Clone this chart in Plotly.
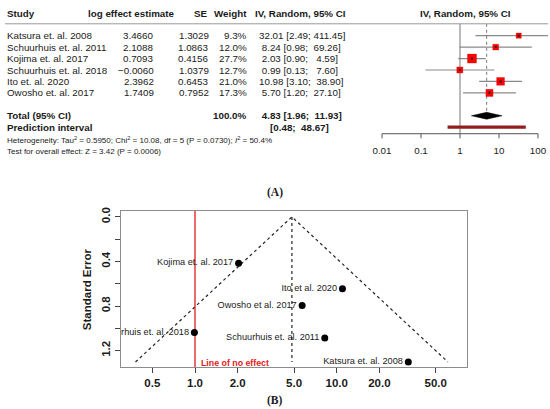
import plotly.graph_objects as go

# ---- data ----
studies = ['Katsura et. al. 2008', 'Schuurhuis et. al. 2011', 'Kojima et. al. 2017',
           'Schuurhuis et. al. 2018', 'Ito et. al. 2020', 'Owosho et. al. 2017']
log_est = [3.4660, 2.1088, 0.7093, -0.0060, 2.3962, 1.7409]
se = [1.3029, 1.0863, 0.4156, 1.0379, 0.6453, 0.7952]
weight = [9.3, 12.0, 27.7, 12.7, 21.0, 17.3]
or_est = [32.01, 8.24, 2.03, 0.99, 10.98, 5.70]
ci_lo = [2.49, 0.98, 0.90, 0.13, 3.10, 1.20]
ci_hi = [411.45, 69.26, 4.59, 7.60, 38.90, 27.10]

pooled = 4.83
pooled_lo = 1.96
pooled_hi = 11.93
pred_lo = 0.48
pred_hi = 48.67
total_weight = 100.0

het_text = ('Heterogeneity: Tau<sup>2</sup> = 0.5950; Chi<sup>2</sup> = 10.08, df = 5 '
            '(P = 0.0730); <i>I</i><sup>2</sup> = 50.4%')
test_text = 'Test for overall effect: Z = 3.42 (P = 0.0006)'

forest_ticks = [0.01, 0.1, 1, 10, 100]
forest_ticklabels = ['0.01', '0.1', '1', '10', '100']

funnel_labels = ['Katsura et. al. 2008', 'Schuurhuis et. al. 2011', 'Kojima et. al. 2017',
                 'Schuurhuis et. al. 2018', 'Ito et al. 2020', 'Owosho et al. 2017']
funnel_edge_x = [0.38, 4.83, 61.0]
funnel_edge_se = [1.3029, 0.0, 1.3029]
funnel_xticks = [0.5, 1, 2, 5, 10, 20, 50]
funnel_xticklabels = ['0.5', '1.0', '2.0', '5.0', '10.0', '20.0', '50.0']
funnel_yticks = [0, 0.4, 0.8, 1.2]
funnel_yticklabels = ['0.0', '0.4', '0.8', '1.2']
funnel_yminor = [0.2, 0.6, 1.0]

# ---- layout helpers (pixel -> paper) ----
W, H = 550, 409
FONT = 'Liberation Sans, Arial, sans-serif'
TXT = '#1a1a1a'
NB = '\u00a0'


def px(x):
    return x / W


def py(y):
    return 1 - y / H


# forest: row r sits at pixel 32 + 11.55*r
ROW0, ROWH = 32, 11.55
rows = list(range(len(studies)))
total_row, pred_row = 7, 8
header_row = (10 - ROW0) / ROWH
hline_row = (20 - ROW0) / ROWH
axis_row = (131 - ROW0) / ROWH
tick_end_row = (135.7 - ROW0) / ROWH
ticklab_row = (149.5 - ROW0) / ROWH
het_row = (137.7 - ROW0) / ROWH
test_row = (148.5 - ROW0) / ROWH

fig = go.Figure()

# confidence intervals
ci_x, ci_y = [], []
for r, lo, hi in zip(rows, ci_lo, ci_hi):
    ci_x += [lo, hi, None]
    ci_y += [r, r, None]
fig.add_trace(go.Scatter(x=ci_x, y=ci_y, mode='lines', line=dict(color='#8a8a8a', width=1.2),
                         xaxis='x', yaxis='y', hoverinfo='skip'))

# reference lines
fig.add_trace(go.Scatter(x=[1, 1], y=[hline_row, axis_row], mode='lines',
                         line=dict(color='#777777', width=1), xaxis='x', yaxis='y'))
fig.add_trace(go.Scatter(x=[pooled, pooled], y=[hline_row, total_row - 0.33], mode='lines',
                         line=dict(color='#777777', width=1, dash='dot'), xaxis='x', yaxis='y'))

# study squares (area ~ weight)
fig.add_trace(go.Scatter(x=or_est, y=rows, mode='markers',
                         marker=dict(symbol='square', color='#ff0000', opacity=1,
                                     size=[1.71 * w ** 0.5 for w in weight],
                                     line=dict(color='#cc0000', width=0.3)),
                         xaxis='x', yaxis='y'))
fig.add_trace(go.Scatter(x=or_est, y=rows, mode='markers',
                         marker=dict(symbol='square', color='#222222', size=2),
                         xaxis='x', yaxis='y'))

# pooled diamond
fig.add_trace(go.Scatter(x=[pooled_lo, pooled, pooled_hi, pooled, pooled_lo],
                         y=[total_row, total_row - 0.3, total_row, total_row + 0.3, total_row],
                         mode='lines', fill='toself', fillcolor='black',
                         line=dict(color='black', width=0.5), xaxis='x', yaxis='y'))

# prediction interval
fig.add_trace(go.Scatter(x=[pred_lo, pred_hi], y=[pred_row, pred_row], mode='lines',
                         line=dict(color='#951c1c', width=3.2), xaxis='x', yaxis='y'))

# forest axis drawn in the grid style of the original
fig.add_trace(go.Scatter(x=[forest_ticks[0], forest_ticks[-1]], y=[axis_row, axis_row],
                         mode='lines', line=dict(color='#555555', width=1), xaxis='x', yaxis='y'))
tk_x, tk_y = [], []
for t in forest_ticks:
    tk_x += [t, t, None]
    tk_y += [axis_row, tick_end_row, None]
fig.add_trace(go.Scatter(x=tk_x, y=tk_y, mode='lines', line=dict(color='#555555', width=1),
                         xaxis='x', yaxis='y'))
fig.add_trace(go.Scatter(x=forest_ticks, y=[ticklab_row] * len(forest_ticks), mode='text',
                         text=forest_ticklabels, textposition='middle center',
                         textfont=dict(family=FONT, size=9.8, color=TXT),
                         cliponaxis=False, xaxis='x', yaxis='y'))

# ---- funnel plot ----
fig.add_trace(go.Scatter(x=funnel_edge_x, y=funnel_edge_se, mode='lines',
                         line=dict(color='#222222', width=1.2, dash='dot'),
                         xaxis='x2', yaxis='y2'))
fig.add_trace(go.Scatter(x=[pooled, pooled], y=[0, max(se)], mode='lines',
                         line=dict(color='#222222', width=1.2, dash='dot'),
                         xaxis='x2', yaxis='y2'))
fig.add_trace(go.Scatter(x=[1, 1], y=[-0.1, 1.4], mode='lines',
                         line=dict(color='#e31a1c', width=1.3), xaxis='x2', yaxis='y2'))
fig.add_trace(go.Scatter(x=or_est, y=se, mode='markers+text', text=funnel_labels,
                         textposition='middle left',
                         textfont=dict(family=FONT, size=9.2, color=TXT),
                         marker=dict(color='black', size=7), cliponaxis=True,
                         xaxis='x2', yaxis='y2'))

# ---- table text (forest) ----
ann = []


def cell(x, r, text, align='left', bold=False, size=9.8, yref='y'):
    ann.append(dict(x=px(x), y=r, xref='paper', yref=yref, text=f'<b>{text}</b>' if bold else text,
                    showarrow=False, xanchor=align, yanchor='middle',
                    font=dict(family=FONT, size=size, color=TXT)))


cell(5, header_row, 'Study', bold=True)
cell(177, header_row, 'log effect estimate', align='right', bold=True)
cell(210, header_row, 'SE', align='right', bold=True)
cell(249, header_row, 'Weight', align='right', bold=True)
cell(253, header_row, 'IV, Random, 95% CI', bold=True)
cell(465, header_row, 'IV, Random, 95% CI', align='center', bold=True)

for r, name, b, s, w, e, lo, hi in zip(rows, studies, log_est, se, weight, or_est, ci_lo, ci_hi):
    cell(5, r, name)
    cell(156, r, f'{b:.4f}'.replace('-', '\u2212'), align='right')
    cell(211, r, f'{s:.4f}', align='right')
    cell(249, r, f'{w:.1f}%', align='right')
    cell(257, r, f'{e:5.2f} [{lo:4.2f};{hi:7.2f}]'.replace(' ', NB))

cell(5, total_row, 'Total (95% CI)', bold=True)
cell(249, total_row, f'{total_weight:.1f}%', align='right', bold=True)
cell(257, total_row, f'{pooled:5.2f} [{pooled_lo:4.2f};{pooled_hi:7.2f}]'.replace(' ', NB), bold=True)
cell(5, pred_row, 'Prediction interval', bold=True)
cell(331, pred_row, f'[{pred_lo:4.2f};{pred_hi:7.2f}]'.replace(' ', NB), align='right', bold=True)
cell(5, het_row, het_text, size=8)
cell(5, test_row, test_text, size=8)

# panel letters
for lab, yy in [('(A)', 190), ('(B)', 400)]:
    ann.append(dict(x=px(275), y=py(yy), xref='paper', yref='paper', text=f'<b>{lab}</b>',
                    showarrow=False, xanchor='center', yanchor='middle',
                    font=dict(family='Liberation Serif, Times New Roman, serif', size=11.5, color=TXT)))

# funnel annotations
ann.append(dict(x=px(87), y=py(288), xref='paper', yref='paper', text='<b>Standard Error</b>',
                textangle=-90, showarrow=False, xanchor='center', yanchor='middle',
                font=dict(family=FONT, size=11.5, color=TXT)))
ann.append(dict(x=0, y=1.313, xref='x2', yref='y2', text='<b>Line of no effect</b>',
                showarrow=False, xanchor='left', yanchor='middle', xshift=4,
                font=dict(family=FONT, size=8.8, color='#e31a1c')))

# forest y-range in row units for pixel 0..175
f_top, f_bot = 0, 175
fig.update_layout(
    width=W, height=H,
    margin=dict(l=0, r=0, t=0, b=0),
    paper_bgcolor='white', plot_bgcolor='white',
    showlegend=False,
    annotations=ann,
    shapes=[dict(type='line', xref='paper', yref='y', x0=px(5), x1=px(548),
                 y0=hline_row, y1=hline_row, line=dict(color='#999999', width=1))],
    xaxis=dict(type='log', domain=[px(370), px(548)],
               range=[(370 - 460) / 39, (548 - 460) / 39], visible=False, anchor='y'),
    yaxis=dict(domain=[py(f_bot), py(f_top)],
               range=[(f_bot - ROW0) / ROWH, (f_top - ROW0) / ROWH], visible=False, anchor='x'),
    xaxis2=dict(type='log', domain=[px(120.7), px(466.7)], range=[-0.5244, 1.9175],
                anchor='y2', showline=True, mirror=True, linecolor='#8c8c8c', linewidth=1,
                ticks='outside', ticklen=5, tickcolor='#444444', showgrid=False, zeroline=False,
                tickvals=funnel_xticks, ticktext=funnel_xticklabels,
                tickfont=dict(family=FONT, size=11.5, color=TXT, weight='bold')),
    yaxis2=dict(domain=[py(366.7), py(209)], range=[1.3484, -0.0533], anchor='x2',
                showline=True, mirror=True, linecolor='#8c8c8c', linewidth=1,
                ticks='outside', ticklen=5, tickcolor='#444444', showgrid=False, zeroline=False,
                tickvals=funnel_yticks, ticktext=funnel_yticklabels, tickangle=-90,
                minor=dict(tickvals=funnel_yminor, ticks='outside', ticklen=5,
                           tickcolor='#444444', showgrid=False),
                tickfont=dict(family=FONT, size=11.5, color=TXT, weight='bold')),
)

# page body has an 8px default margin; drop it so the figure fills the window
fig.write_html('out.html', config={'displayModeBar': False},
               post_script="document.body.style.margin='0px';")
